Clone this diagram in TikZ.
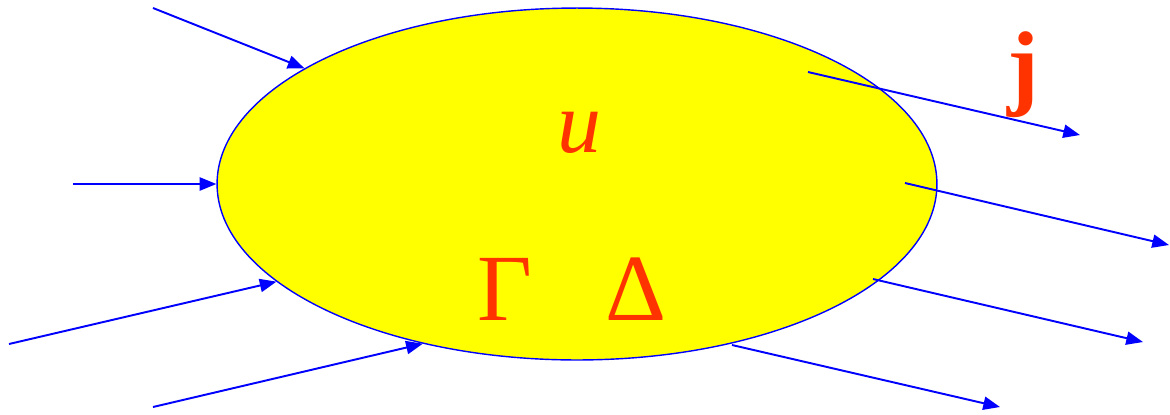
\documentclass[tikz,border=0pt]{standalone}
\usepackage{fontspec}
\setmainfont{Liberation Serif}
\usepackage{xcolor}
\usetikzlibrary{arrows.meta,shapes.geometric}
\definecolor{fluxblue}{RGB}{0,0,255}
\definecolor{symred}{RGB}{255,51,0}
\definecolor{bodyyellow}{RGB}{255,255,0}
\tikzset{
  region/.style={ellipse, draw=fluxblue, fill=bodyyellow, line width=0.8pt, inner sep=0pt, minimum width=14.4cm, minimum height=7.04cm},
  flux/.style={-{Triangle[length=9.5pt,width=7.5pt]}, line width=1.1pt, draw=fluxblue},
  sym/.style={text=symred, anchor=base, inner sep=0pt, font=\fontsize{50}{60}\selectfont}
}

\begin{document}
\begin{tikzpicture}[x=0.02cm,y=-0.02cm]
\useasboundingbox (0,0) rectangle (1170,414);
\node[region] (body) at (577,184) {};
\node[sym] (u) at (579,152) {\itshape u};
\node[sym,font=\fontsize{54}{60}\selectfont] (gam) at (505,320) {Γ};
\node[sym,font=\fontsize{54}{60}\selectfont] (del) at (636,320) {Δ};
\node[sym,font=\fontsize{54}{60}\selectfont\bfseries] (j) at (1023,97) {j};
% incoming
\coordinate (in1) at (153,8);
\coordinate (in2) at (73,184);
\coordinate (in3) at (9,344);
\coordinate (in4) at (153,407);
\draw[flux] (in1) -- (body.157);
\draw[flux] (in2) -- (body.180);
\draw[flux] (in3) -- (body.198);
\draw[flux] (in4) -- (body.226);
% outgoing
\coordinate (s1) at (808,72);   \coordinate (e1) at (1080,135);
\coordinate (s2) at (905,183);  \coordinate (e2) at (1169,245);
\coordinate (s3) at (873,279);  \coordinate (e3) at (1143,342);
\coordinate (s4) at (732,345);  \coordinate (e4) at (1000,407);
\foreach \u/\v in {s1/e1,s2/e2,s3/e3,s4/e4}{\draw[flux] (\u) -- (\v);}
\end{tikzpicture}
\end{document}
